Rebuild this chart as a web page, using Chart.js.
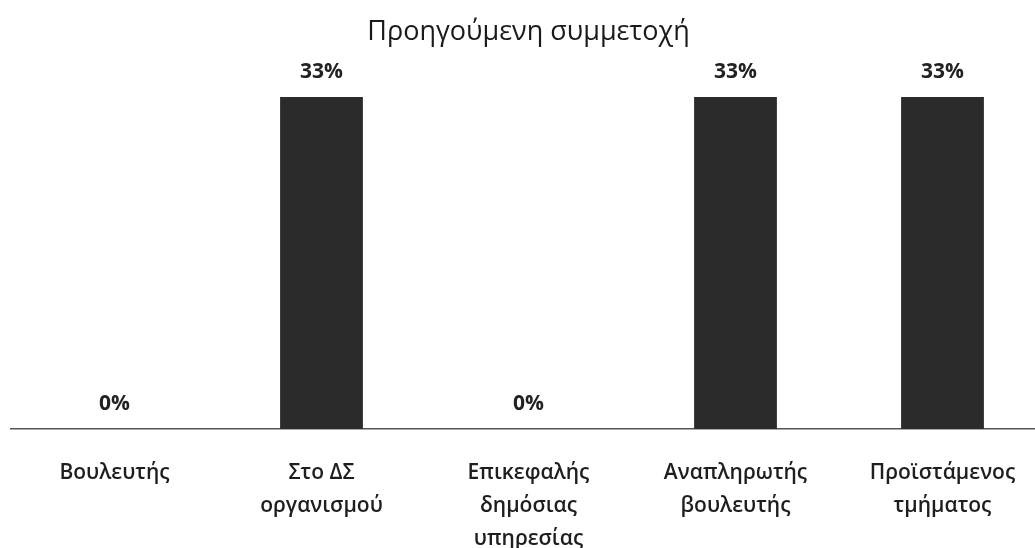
<!DOCTYPE html>
<html>
<head>
<meta charset="utf-8">
<script src="https://cdn.jsdelivr.net/npm/chart.js@4"></script>
<style>
  html, body { margin: 0; padding: 0; background: #fff; overflow: hidden; }
  #wrap { width: 1046px; height: 548px; }
</style>
</head>
<body>
<div id="wrap"><canvas id="chart" width="1046" height="548"></canvas></div>
<script>
const categories = [
    'Βουλευτής',
    ['Στο ΔΣ', 'οργανισμού'],
    ['Επικεφαλής', 'δημόσιας', 'υπηρεσίας'],
    ['Αναπληρωτής', 'βουλευτής'],
    ['Προϊστάμενος', 'τμήματος']
];
const participation = [0, 33, 0, 33, 33];
const chartTitle = 'Προηγούμενη συμμετοχή';

// Percent labels above each bar
const valueLabels = {
    id: 'valueLabels',
    afterDatasetsDraw(chart) {
        const ctx = chart.ctx;
        const meta = chart.getDatasetMeta(0);
        ctx.save();
        ctx.font = 'bold 21px "Open Sans", sans-serif';
        ctx.fillStyle = '#222';
        ctx.textAlign = 'center';
        ctx.textBaseline = 'middle';
        meta.data.forEach((bar, i) => {
            ctx.fillText(participation[i] + '%', bar.x, bar.y - 25);
        });
        ctx.restore();
    }
};

new Chart(document.getElementById('chart'), {
    type: 'bar',
    data: {
        labels: categories,
        datasets: [{
            data: participation,
            backgroundColor: '#2b2b2b',
            barPercentage: 0.4,
            categoryPercentage: 1.0
        }]
    },
    options: {
        responsive: false,
        animation: false,
        devicePixelRatio: 1,
        layout: { padding: { left: 11, right: 0, top: 0, bottom: 0 } },
        plugins: {
            legend: { display: false },
            tooltip: { enabled: false },
            title: {
                display: true,
                text: chartTitle,
                color: '#1a1a1a',
                font: { family: '"Open Sans", sans-serif', size: 27, weight: 'normal', lineHeight: 1.2 },
                padding: { top: 16, bottom: 48.6 }
            }
        },
        scales: {
            x: {
                grid: { display: false, drawTicks: false },
                border: { display: true, color: '#555', width: 1.5 },
                ticks: {
                    color: '#1e1e1e',
                    padding: 28,
                    maxRotation: 0,
                    autoSkip: false,
                    font: { family: '"Open Sans", sans-serif', size: 21, weight: '600', lineHeight: 1.57 }
                },
                afterFit(scale) { scale.height = 119; }
            },
            y: {
                display: false,
                min: 0,
                max: 33
            }
        }
    },
    plugins: [valueLabels]
});
</script>
</body>
</html>
